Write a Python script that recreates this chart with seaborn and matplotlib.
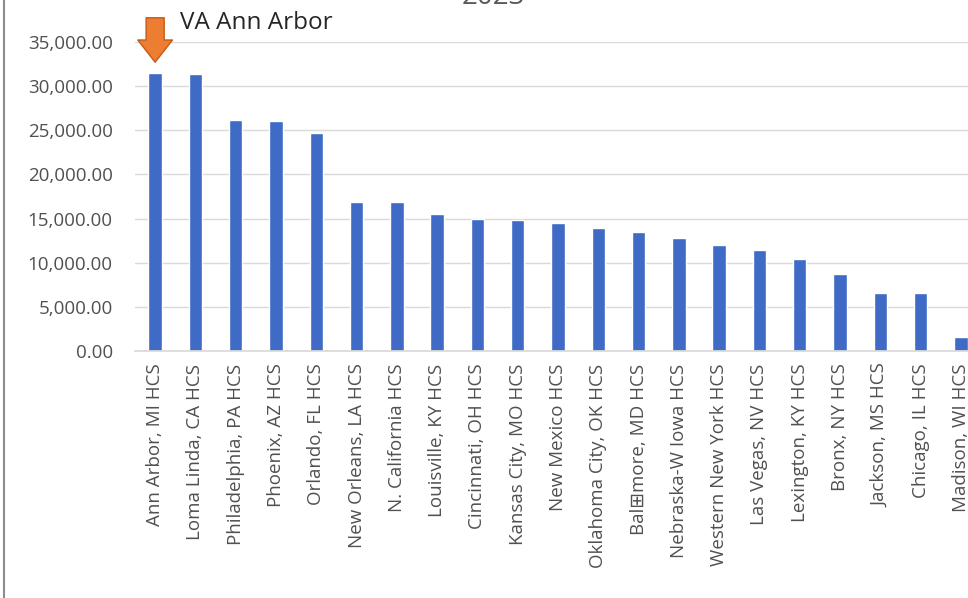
import matplotlib
matplotlib.use("Agg")
import matplotlib.pyplot as plt
from matplotlib.lines import Line2D
from matplotlib.ticker import FuncFormatter
import seaborn as sns

title = "2023"
facilities = ["Ann Arbor, MI HCS", "Loma Linda, CA HCS", "Philadelphia, PA HCS",
              "Phoenix, AZ HCS", "Orlando, FL HCS", "New Orleans, LA HCS",
              "N. California HCS", "Louisville, KY HCS", "Cincinnati, OH HCS",
              "Kansas City, MO HCS", "New Mexico HCS", "Oklahoma City, OK HCS",
              "Bal\u229emore, MD HCS", "Nebraska-W Iowa HCS", "Western New York HCS",
              "Las Vegas, NV HCS", "Lexington, KY HCS", "Bronx, NY HCS",
              "Jackson, MS HCS", "Chicago, IL HCS", "Madison, WI HCS"]
values = [31450, 31400, 26200, 26000, 24700, 16850, 16850, 15550, 14900, 14850,
          14450, 13950, 13500, 12800, 11950, 11450, 10400, 8750, 6600, 6550, 1550]
yticks = [0, 5000, 10000, 15000, 20000, 25000, 30000, 35000]
highlight_label = "VA Ann Arbor"
highlight_idx = 0

sns.set_theme(style="white")
plt.rcParams['font.family'] = ['Open Sans', 'DejaVu Sans']

fig = plt.figure(figsize=(9.68, 5.98), dpi=100)
ax = fig.add_axes([135 / 968, (598 - 351) / 598, 846 / 968, 309 / 598])

sns.barplot(x=facilities, y=values, color="#3F6BC6", saturation=1, width=0.33, ax=ax)

ax.set_ylim(0, 35000)
ax.set_yticks(yticks)
ax.yaxis.set_major_formatter(FuncFormatter(lambda v, p: f"{v:,.2f}"))
ax.grid(axis="y", color="#D9D9D9", linewidth=1)
ax.set_axisbelow(True)
for s in ["top", "right", "left"]:
    ax.spines[s].set_visible(False)
ax.spines["bottom"].set_color("#D9D9D9")
ax.tick_params(axis="y", length=0, pad=16, labelsize=13.5, labelcolor="#505050")
ax.tick_params(axis="x", length=0, pad=9, labelsize=13.5, labelcolor="#505050", rotation=90)
ax.set_xlabel("")
ax.set_ylabel("")

# highlight arrow and label
ax.annotate("", xy=(highlight_idx, values[highlight_idx]), xycoords="data",
            xytext=(0, 40), textcoords="offset points", annotation_clip=False,
            arrowprops=dict(arrowstyle="simple,head_length=16,head_width=25,tail_width=13",
                            mutation_scale=1, shrinkA=0, shrinkB=8,
                            fc="#ED7D31", ec="#C55A11", lw=1))
ax.annotate(highlight_label, xy=(highlight_idx, values[highlight_idx]), xycoords="data",
            xytext=(18, 32), textcoords="offset points", annotation_clip=False,
            ha="left", va="baseline", fontsize=17.5, color="#262626")

fig.text(493 / 968, 1 - 4 / 598, title, ha="center", va="baseline", fontsize=20, color="#595959")
fig.add_artist(Line2D([4 / 968, 4 / 968], [0, 1], color="#8C8C8C", linewidth=1.5))

fig.savefig("out.png", dpi=100)
